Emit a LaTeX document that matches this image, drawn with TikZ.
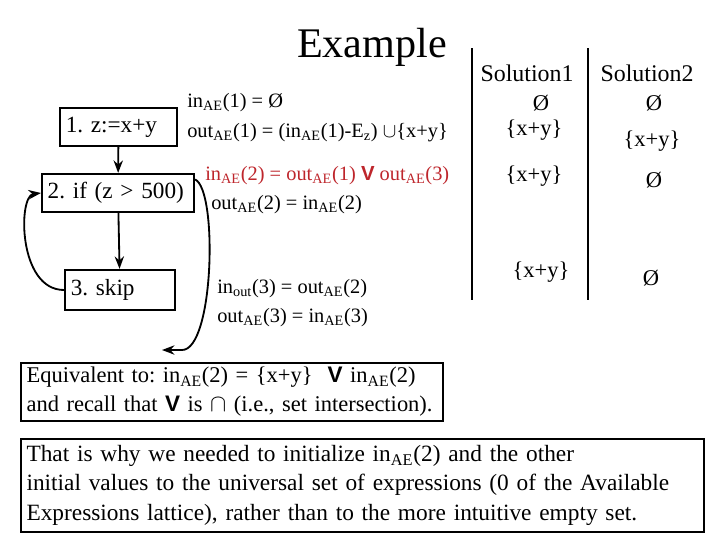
\documentclass[tikz,border=0pt]{standalone}
\usepackage{fontspec}
\setmainfont{Liberation Serif}
\newfontfamily\meetfont{Liberation Sans}
\usepackage{tikz}
\usetikzlibrary{arrows.meta,positioning}
\frenchspacing
\newcommand{\sbs}[1]{\textsubscript{#1}}
\newcommand{\meet}{{\meetfont\bfseries V}}
\definecolor{eqred}{RGB}{190,38,44}
\tikzset{
  stmtbox/.style={draw, line width=1.6pt, minimum height=27pt, inner xsep=4pt,
                  align=left, font=\fontsize{16.5}{20}\selectfont},
  flowarrow/.style={->, >=Stealth, line width=1.3pt},
  eqtext/.style={anchor=west, inner sep=0pt, font=\fontsize{14.5}{18}\selectfont},
  soltext/.style={inner sep=0pt, font=\fontsize{16}{19}\selectfont},
  colrule/.style={line width=1.7pt},
  notebox/.style={draw, line width=1.3pt, anchor=north west, align=left,
                  inner xsep=4pt, inner ysep=3pt, font=\fontsize{16}{20.6}\selectfont}
}
\begin{document}
\begin{tikzpicture}[x=0.025cm, y=-0.025cm]
    \useasboundingbox (0,0) rectangle (720,540);

    \node[font=\fontsize{30}{34}\selectfont] (title) at (372,47) {Example};

    % flow graph
    \node[stmtbox, text width=75pt] (s1) at (118.5,127) {1. z:=x+y};
    \node[stmtbox, text width=100pt] (s2) at (118,193) {2. if (z > 500)};
    \node[stmtbox, text width=70pt, minimum height=28.5pt] (s3) at (120,290) {3. skip};
    \coordinate (exit) at (162,350);

    \draw[flowarrow] (s1) -- (s2);
    \draw[flowarrow] (s2) -- (s3);
    \draw[flowarrow] (s3.west) .. controls (18,290) and (18,196) .. (s2.west);
    \draw[flowarrow] (s2.10) .. controls (218,190) and (214,350) .. (182,350) -- (exit);

    % equations
    \node[eqtext] (in1)  at (187,103) {in\sbs{AE}(1) = Ø};
    \node[eqtext] (out1) at (187,133) {out\sbs{AE}(1) = (in\sbs{AE}(1)-E\sbs{z}) $\cup$\{x+y\}};
    \node[eqtext, text=eqred] (in2) at (205,176)
      {in\sbs{AE}(2) = out\sbs{AE}(1) \meet\ out\sbs{AE}(3)};
    \node[eqtext] (out2) at (211,205) {out\sbs{AE}(2) = in\sbs{AE}(2)};
    \node[eqtext] (in3)  at (217,289) {in\sbs{out}(3) = out\sbs{AE}(2)};
    \node[eqtext] (out3) at (217,318) {out\sbs{AE}(3) = in\sbs{AE}(3)};

    % solutions
    \draw[colrule] (472,48) -- (472,300);
    \draw[colrule] (588,48) -- (588,300);
    \node[soltext, font=\fontsize{17}{20}\selectfont] (solA) at (527,73) {Solution1};
    \node[soltext, font=\fontsize{17}{20}\selectfont] (solB) at (647,73) {Solution2};
    \node[soltext] (a1) at (541,103) {Ø};
    \node[soltext] (a2) at (534,130) {\{x+y\}};
    \node[soltext] (a3) at (534,176) {\{x+y\}};
    \node[soltext] (a4) at (541,272) {\{x+y\}};
    \node[soltext] (b1) at (654,103) {Ø};
    \node[soltext] (b2) at (652,141) {\{x+y\}};
    \node[soltext] (b3) at (654,180) {Ø};
    \node[soltext] (b4) at (651,278) {Ø};

    % notes
    \node[notebox, text width=292pt] (equiv) at (20,362)
      {Equivalent to: in\sbs{AE}(2) = \{x+y\}\ \ \meet\ in\sbs{AE}(2)\\
       and recall that \meet\ is $\cap$ (i.e., set intersection).};
    \node[notebox, text width=478pt, inner ysep=4.5pt,
          font=\fontsize{16.6}{21}\selectfont] (why) at (20,438)
      {That is why we needed to initialize in\sbs{AE}(2) and the other\\
       initial values to the universal set of expressions (0 of the Available\\
       Expressions lattice), rather than to the more intuitive empty set.};
\end{tikzpicture}
\end{document}
